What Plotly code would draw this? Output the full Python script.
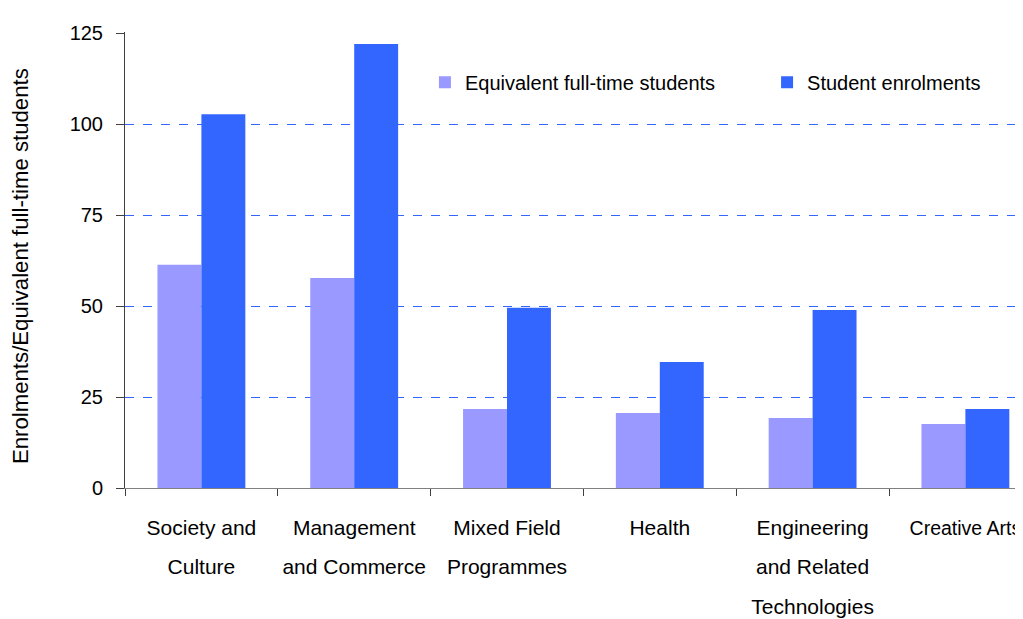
import plotly.graph_objects as go

categories = ["Society and<br>Culture", "Management<br>and Commerce", "Mixed Field<br>Programmes",
              "Health", "Engineering<br>and Related<br>Technologies", "Creative Arts"]
eftsu = [61.3, 57.7, 21.7, 20.6, 19.2, 17.6]
enrolments = [102.7, 122.0, 49.5, 34.6, 48.9, 21.7]
y_ticks = [0, 25, 50, 75, 100, 125]

FONT = "Liberation Sans, Arial, sans-serif"

# tick text: same labels, drawn at ~21px inside a taller line box (wider line spacing)
def styled(label):
    size = 19.5 if label == "Creative Arts" else 21
    return "<br>".join("<span style='font-size:%spx'>%s</span>" % (size, ln)
                       for ln in label.split("<br>"))

tick_text = [styled(c) for c in categories]

fig = go.Figure()
fig.add_trace(go.Bar(name="Equivalent full-time students", x=categories, y=eftsu,
                     marker=dict(color="#9999FF", line=dict(width=0)),
                     legend="legend", showlegend=True))
fig.add_trace(go.Bar(name="Student enrolments", x=categories, y=enrolments,
                     marker=dict(color="#3366FF", line=dict(width=0)),
                     legend="legend2", showlegend=True))

legend_common = dict(orientation="h", yanchor="middle", xanchor="left",
                     bgcolor="rgba(0,0,0,0)", font=dict(size=20), visible=True)

fig.update_layout(
    width=1015, height=611,
    margin=dict(l=117, r=0, t=24, b=131, autoexpand=False),
    paper_bgcolor="white", plot_bgcolor="white",
    showlegend=True,
    barmode="group", bargap=0.425, bargroupgap=0,
    font=dict(family=FONT, size=20, color="black"),
    legend=dict(x=0.334, y=0.89, **legend_common),
    legend2=dict(x=0.715, y=0.89, **legend_common),
    xaxis=dict(range=[-0.5, 5.377], showline=True, linecolor="#808080", linewidth=1,
               tickmode="array", tickvals=categories, ticktext=tick_text,
               ticks="outside", tickson="boundaries", ticklen=7, tickcolor="#404040",
               showgrid=False, tickangle=0, ticklabelstandoff=9, automargin=False,
               tickfont=dict(size=30.5)),
    yaxis=dict(range=[0, 125.2747], tickvals=y_ticks, showline=True, linecolor="#404040", linewidth=1,
               ticks="outside", ticklen=8, tickcolor="#404040",
               showgrid=True, gridcolor="#3366FF", griddash="dash", gridwidth=1,
               zeroline=False, ticklabelstandoff=9, automargin=False,
               tickfont=dict(size=20),
               title=dict(text="Enrolments/Equivalent full-time students&nbsp;&nbsp;", standoff=36,
                          font=dict(size=22.2))),
)

fig.write_html("out.html")
